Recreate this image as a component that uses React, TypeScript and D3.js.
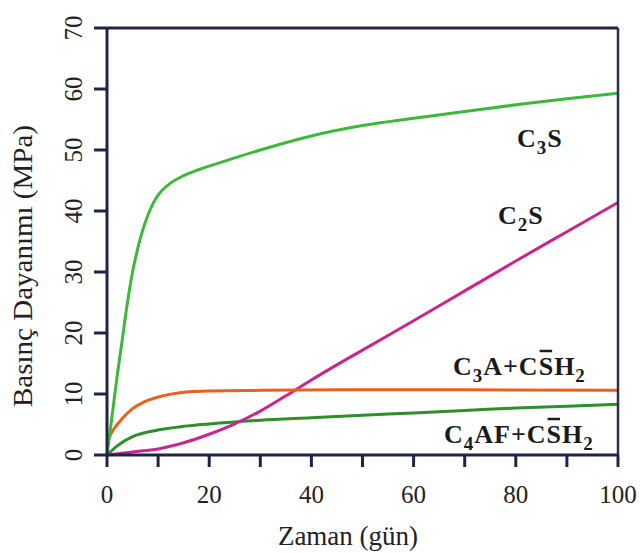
import React, { useLayoutEffect, useRef, useState } from 'react';
import * as d3 from 'd3';

// days / MPa
const c3sDays = [0, 1, 2, 3, 4, 5, 6, 7, 8, 9, 10, 12, 15, 18, 22, 25, 30, 40, 50, 60, 70, 80, 90, 100];
const c3sVals = [0, 6.5, 13, 19, 25, 30, 33.8, 36.9, 39.3, 41.2, 42.6, 44.3, 45.8, 46.8, 47.9, 48.7, 50, 52.3, 54, 55.2, 56.3, 57.4, 58.4, 59.3];

const c2sDays = [0, 5, 10, 15, 20, 25, 30, 35, 40, 50, 60, 70, 80, 90, 100];
const c2sVals = [0, 0.5, 1, 2, 3.4, 5.1, 7.2, 9.7, 12.3, 17.2, 22, 26.9, 31.8, 36.6, 41.4];

const c3aDays = [0, 1, 2, 3, 5, 7, 10, 12, 15, 20, 30, 50, 70, 100];
const c3aVals = [2, 3.8, 5, 6, 7.6, 8.6, 9.5, 9.9, 10.3, 10.5, 10.6, 10.7, 10.7, 10.6];

const c4afDays = [0, 2, 5, 10, 15, 20, 30, 40, 50, 60, 70, 80, 90, 100];
const c4afVals = [0, 1.5, 3, 4.1, 4.7, 5.1, 5.7, 6.1, 6.5, 6.9, 7.3, 7.7, 8, 8.3];

const xTicks = [0, 10, 20, 30, 40, 50, 60, 70, 80, 90, 100];
const xTickLabels = ['0', '', '20', '', '40', '', '60', '', '80', '', '100'];
const yTicks = [0, 10, 20, 30, 40, 50, 60, 70];

const axisColor = '#1d2447';
const font = 'Liberation Serif';

const x = d3.scaleLinear().domain([0, 100]).range([107, 618]);
const y = d3.scaleLinear().domain([0, 70]).range([455, 28]);

const line = d3.line<[number, number]>()
  .x(d => x(d[0]))
  .y(d => y(d[1]))
  .curve(d3.curveMonotoneX);

const series = [
  { days: c4afDays, vals: c4afVals, color: '#2f8f2a' },
  { days: c2sDays, vals: c2sVals, color: '#c8258e' },
  { days: c3aDays, vals: c3aVals, color: '#e8611f' },
  { days: c3sDays, vals: c3sVals, color: '#3db83a' },
];

// curve labels: [text, subscript?]; bar = index of part that gets an overbar
const labels = [
  { x: 517, y: 147, parts: [['C', 0], ['3', 1], ['S', 0]], bar: -1 },
  { x: 498, y: 224, parts: [['C', 0], ['2', 1], ['S', 0]], bar: -1 },
  { x: 453, y: 375, parts: [['C', 0], ['3', 1], ['A+C', 0], ['S', 0], ['H', 0], ['2', 1]], bar: 3 },
  { x: 444, y: 443, parts: [['C', 0], ['4', 1], ['AF+C', 0], ['S', 0], ['H', 0], ['2', 1]], bar: 3 },
];

const App = () => {
  const textRefs = useRef<(SVGTextElement | null)[]>([]);
  const [bars, setBars] = useState<{ x1: number; x2: number; y: number }[]>([]);

  useLayoutEffect(() => {
    document.body.style.margin = '0';
    const out: { x1: number; x2: number; y: number }[] = [];
    labels.forEach((l, li) => {
      if (l.bar < 0) return;
      const node = textRefs.current[li];
      if (!node) return;
      let idx = 0;
      for (let i = 0; i < l.bar; i++) idx += (l.parts[i][0] as string).length;
      const s0 = node.getStartPositionOfChar(idx).x;
      const s1 = node.getEndPositionOfChar(idx).x;
      out.push({ x1: s0 + 1, x2: s1 - 2, y: l.y - 24 });
    });
    setBars(out);
  }, []);

  return (
    <svg width={640} height={553} style={{ display: 'block', background: '#fff' }}>
      {series.map((s, i) => (
        <path
          key={i}
          d={line(s.days.map((d, j) => [d, s.vals[j]] as [number, number])) || ''}
          fill="none"
          stroke={s.color}
          strokeWidth={3}
        />
      ))}

      {/* frame */}
      <line x1={x(0)} x2={x(100)} y1={y(70)} y2={y(70)} stroke={axisColor} strokeWidth={3} />
      <line x1={x(100)} x2={x(100)} y1={y(70)} y2={y(0)} stroke="#2a3150" strokeWidth={2.5} />
      <line x1={x(0)} x2={x(0)} y1={y(70)} y2={y(0)} stroke={axisColor} strokeWidth={3} />
      <line x1={x(0)} x2={x(100)} y1={y(0)} y2={y(0)} stroke={axisColor} strokeWidth={3} />

      {/* ticks */}
      {xTicks.map(t => (
        <line key={'xt' + t} x1={x(t)} x2={x(t)} y1={y(0)} y2={y(0) + 12} stroke={axisColor} strokeWidth={3} />
      ))}
      {yTicks.map(t => (
        <line key={'yt' + t} x1={x(0) - 13} x2={x(0)} y1={y(t)} y2={y(t)} stroke={axisColor} strokeWidth={3} />
      ))}

      {/* tick labels */}
      {xTicks.map((t, i) => (
        <text key={'xl' + t} x={x(t)} y={503} textAnchor="middle" fontFamily={font} fontSize={25} fill="#222">
          {xTickLabels[i]}
        </text>
      ))}
      {yTicks.map(t => (
        <text
          key={'yl' + t}
          transform={`translate(82,${y(t)}) rotate(-90)`}
          textAnchor="middle"
          fontFamily={font}
          fontSize={25}
          fill="#222"
        >
          {t}
        </text>
      ))}

      {/* axis titles */}
      <text x={348} y={545} textAnchor="middle" fontFamily={font} fontSize={27} fill="#222">
        Zaman (gün)
      </text>
      <text
        transform="translate(32,266) rotate(-90)"
        textAnchor="middle"
        textLength={282}
        lengthAdjust="spacingAndGlyphs"
        fontFamily={font}
        fontSize={27}
        fill="#222"
      >
        Basınç Dayanımı (MPa)
      </text>

      {/* curve labels */}
      {labels.map((l, li) => {
        let sub = false;
        return (
          <text
            key={'cl' + li}
            ref={el => { textRefs.current[li] = el; }}
            x={l.x}
            y={l.y}
            fontFamily={font}
            fontSize={26}
            fontWeight="bold"
            letterSpacing={1}
            fill="#1a1a1a"
          >
            {l.parts.map((p, i) => {
              const isSub = p[1] === 1;
              const dy = isSub && !sub ? 7 : !isSub && sub ? -7 : undefined;
              sub = isSub;
              return (
                <tspan key={i} dy={dy} fontSize={isSub ? 19 : undefined}>
                  {p[0]}
                </tspan>
              );
            })}
          </text>
        );
      })}
      {bars.map((b, i) => (
        <line key={'bar' + i} x1={b.x1} x2={b.x2} y1={b.y} y2={b.y} stroke="#1a1a1a" strokeWidth={2.5} />
      ))}
    </svg>
  );
};

export default App;
